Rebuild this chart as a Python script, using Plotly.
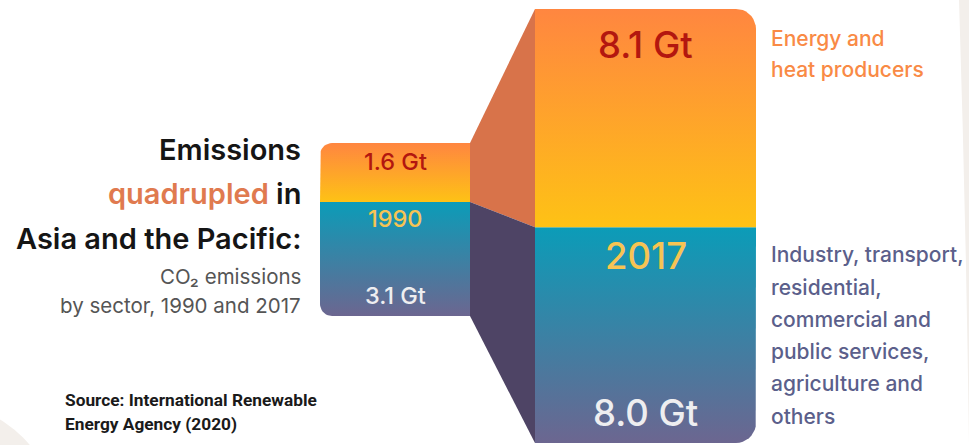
"""
Asia & Pacific CO2 emissions by sector, 1990 vs 2017 -- infographic style
stacked blocks with gradient fills and connecting wedges.
"""

import numpy as np
import plotly.graph_objects as go

# ---- data (Gt CO2) ----
YEARS = ["1990", "2017"]
ENERGY = [1.6, 8.1]     # energy and heat producers
OTHER = [3.1, 8.0]      # industry, transport, residential, ...
ENERGY_LABEL = ["Energy and", "heat producers"]
OTHER_LABEL = ["Industry, transport,", "residential,", "commercial and",
               "public services,", "agriculture and", "others"]

# ---- layout constants ----
W, H = 969, 445
Y_RANGE = [-0.075, 16.43]           # y axis in Gt, on the 2017 block's scale
PX_PER_UNIT = H / (Y_RANGE[1] - Y_RANGE[0])

BAR_X = [(320, 470), (535, 756)]    # x axis is in pixels
BAR_BASE = [4.71, 0.0]              # the 1990 block floats, as in the original
BAR_SCALE = [1.365, 1.0]            # ...and is drawn magnified
CORNER_R = [12, 20]
ROUND_SIDE = ["left", "right"]

FONT = "Roboto"
FONT_MED = "Inter"   # has a real medium weight
ORANGE_TOP, YELLOW_BOT = "#FF8640", "#FEC215"
TEAL_TOP, PURPLE_BOT = "#0B9CB8", "#6C6690"
WEDGE_ORANGE, WEDGE_PURPLE = "#D8734A", "#4E4465"
RED_TXT, YEAR_TXT, LIGHT_TXT = "#B3170F", "#F7C453", "#EEEEF0"


def block_path(x0, x1, y0, y1, r_px, rounded):
    """Closed polygon for a rectangle, rounding the corners named in `rounded`."""
    rx, ry = r_px, r_px / PX_PER_UNIT
    corners = [("bl", x0 + rx, y0 + ry, x0, y0, 270),
               ("tl", x0 + rx, y1 - ry, x0, y1, 180),
               ("tr", x1 - rx, y1 - ry, x1, y1, 90),
               ("br", x1 - rx, y0 + ry, x1, y0, 0)]
    xs, ys = [], []
    for name, cx, cy, px, py, a0 in corners:
        if name in rounded:
            ang = np.radians(np.linspace(a0, a0 - 90, 10))
            xs += list(cx + rx * np.cos(ang))
            ys += list(cy + ry * np.sin(ang))
        else:
            xs.append(px)
            ys.append(py)
    return xs + xs[:1], ys + ys[:1]


def ypx(p):
    # paper y for a distance in px from the top
    return 1 - p / H


fig = go.Figure()

split, top, base = [], [], []
for i, year in enumerate(YEARS):
    x0, x1 = BAR_X[i]
    b = BAR_BASE[i]
    s = b + OTHER[i] * BAR_SCALE[i]
    t = s + ENERGY[i] * BAR_SCALE[i]
    base.append(b); split.append(s); top.append(t)
    side = "l" if ROUND_SIDE[i] == "left" else "r"

    xs, ys = block_path(x0, x1, b, s, CORNER_R[i], {"b" + side})
    fig.add_trace(go.Scatter(
        x=xs, y=ys, mode="lines", fill="toself", line=dict(width=0, color=TEAL_TOP),
        fillgradient=dict(type="vertical", colorscale=[[0, PURPLE_BOT], [1, TEAL_TOP]]),
        hoveron="fills", name=f"{year} other sectors: {OTHER[i]} Gt",
    ))
    xs, ys = block_path(x0, x1, s, t, CORNER_R[i], {"t" + side})
    fig.add_trace(go.Scatter(
        x=xs, y=ys, mode="lines", fill="toself", line=dict(width=0, color=ORANGE_TOP),
        fillgradient=dict(type="vertical", colorscale=[[0, YELLOW_BOT], [1, ORANGE_TOP]]),
        hoveron="fills", name=f"{year} energy and heat: {ENERGY[i]} Gt",
    ))

# connecting wedges between the two blocks
xa, xb = BAR_X[0][1], BAR_X[1][0]
fig.add_trace(go.Scatter(
    x=[xa, xb, xb, xa, xa], y=[top[0], top[1], split[1], split[0], top[0]],
    mode="lines", fill="toself", fillcolor=WEDGE_ORANGE,
    line=dict(width=0, color=WEDGE_ORANGE), hoverinfo="skip",
))
fig.add_trace(go.Scatter(
    x=[xa, xb, xb, xa, xa], y=[split[0], split[1], base[1], base[0], split[0]],
    mode="lines", fill="toself", fillcolor=WEDGE_PURPLE,
    line=dict(width=0, color=WEDGE_PURPLE), hoverinfo="skip",
))

# labels inside blocks
big = [23.5, 36.5]
off_top = [-18, -36]
off_year = [-17, -29]
off_bot = [20, 30]
for i, year in enumerate(YEARS):
    cx = sum(BAR_X[i]) / 2
    common = dict(showarrow=False, xanchor="center", yanchor="middle")
    fig.add_annotation(x=cx, y=top[i], yshift=off_top[i], text=f"{ENERGY[i]:.1f} Gt",
                       font=dict(family=FONT_MED, size=big[i], color=RED_TXT, weight=500), **common)
    fig.add_annotation(x=cx, y=split[i], yshift=off_year[i], text=year,
                       font=dict(family=FONT_MED, size=big[i], color=YEAR_TXT, weight=500), **common)
    fig.add_annotation(x=cx, y=base[i], yshift=off_bot[i], text=f"{OTHER[i]:.1f} Gt",
                       font=dict(family=FONT_MED, size=big[i], color=LIGHT_TXT, weight=500), **common)

# sector labels on the right
for k, line in enumerate(ENERGY_LABEL):
    fig.add_annotation(x=769, y=ypx(38 + 32 * k), xref="x", yref="paper",
                       xanchor="left", yanchor="middle", text=line, showarrow=False,
                       font=dict(family=FONT_MED, size=21, color="#F98A45", weight=500))
for k, line in enumerate(OTHER_LABEL):
    fig.add_annotation(x=769, y=ypx(255 + 32.2 * k), xref="x", yref="paper",
                       xanchor="left", yanchor="middle", text=line, showarrow=False,
                       font=dict(family=FONT_MED, size=21, color="#5B5F8B", weight=500))

# title block
title_lines = [("Emissions", 150, 29, "#151515", 600),
               ('<span style="color:#E07A4F">quadrupled</span> in', 193, 29, "#151515", 600),
               ("Asia and the Pacific:", 238, 29, "#151515", 600),
               ("CO₂ emissions", 276, 20.5, "#555555", 400),
               ("by sector, 1990 and 2017", 305, 20.5, "#555555", 400)]
for text, yp, size, color, wt in title_lines:
    fig.add_annotation(x=303, y=ypx(yp), xref="x", yref="paper",
                       xanchor="right", yanchor="middle", text=text, showarrow=False,
                       font=dict(family=FONT_MED, size=size, color=color, weight=wt))

for k, line in enumerate(["Source: International Renewable", "Energy Agency (2020)"]):
    fig.add_annotation(x=63, y=ypx(400 + 24 * k), xref="x", yref="paper",
                       xanchor="left", yanchor="middle", text=f"<b>{line}</b>",
                       showarrow=False, font=dict(size=17.3, color="#1A1A1A"))

# faint background curves at the edges
fig.add_shape(type="circle", xref="x", yref="y", xsizemode="pixel", ysizemode="pixel",
              xanchor=-60, yanchor=Y_RANGE[1] - 520 / PX_PER_UNIT,
              x0=-117, x1=117, y0=-117, y1=117,
              fillcolor="#F3EFEB", line=dict(width=0), layer="below")
fig.add_shape(type="path", xref="paper", yref="paper",
              path="M 0.9897,1 Q 0.997,0.5 1,0 L 1,1 Z",
              fillcolor="#F3EFEB", line=dict(width=0), layer="below")

fig.update_layout(
    width=W, height=H,
    margin=dict(l=0, r=0, t=0, b=0),
    paper_bgcolor="white", plot_bgcolor="white",
    font=dict(family=FONT),
    showlegend=False,
    xaxis=dict(range=[0, W], visible=False, fixedrange=True),
    yaxis=dict(range=Y_RANGE, visible=False, fixedrange=True),
)

# the page's default body margin would push the figure 8px down/right
fig.write_html("out.html", config={"displayModeBar": False},
               post_script="document.body.style.margin='0';")
